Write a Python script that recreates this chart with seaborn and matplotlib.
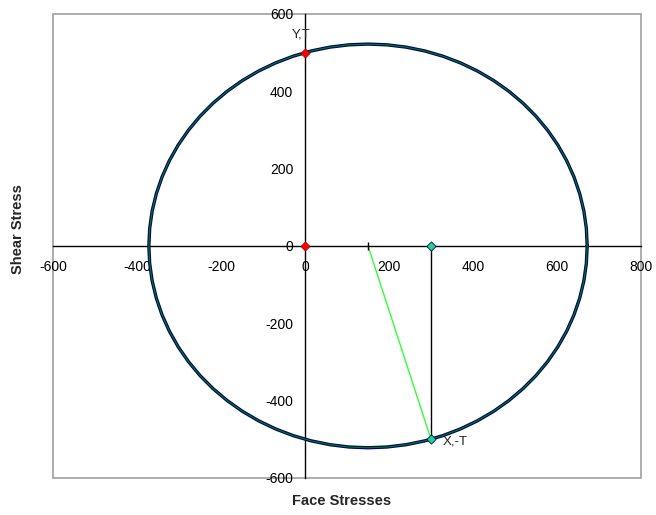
import numpy as np
import pandas as pd
import matplotlib
matplotlib.use("Agg")
import matplotlib.pyplot as plt
import seaborn as sns
from matplotlib.patches import Rectangle

# stresses
sigma_x = 300
sigma_y = 0
tau = 500
n_circle = 73

# Mohr circle from the stress state
centre = (sigma_x + sigma_y) / 2
rayon = np.hypot((sigma_x - sigma_y) / 2, tau)
theta = np.linspace(0, 2 * np.pi, n_circle)
cercle = pd.DataFrame({"s": centre + rayon * np.cos(theta),
                       "t": rayon * np.sin(theta)})

pts_rouges = pd.DataFrame({"s": [sigma_y, sigma_y], "t": [0, tau]})
pts_verts = pd.DataFrame({"s": [sigma_x, sigma_x], "t": [0, -tau]})

x_ticks = [-600, -400, -200, 0, 200, 400, 600, 800]
y_ticks = [-600, -400, -200, 0, 200, 400, 600]

sns.set_style("white")
plt.rcParams["font.family"] = ["Liberation Sans", "DejaVu Sans"]

fig = plt.figure(figsize=(6.56, 5.15), dpi=100)
ax = fig.add_axes([0.081, 0.072, 0.896, 0.901])

# circle: navy with green over it
sns.lineplot(data=cercle, x="s", y="t", sort=False, estimator=None,
             color="#000070", linewidth=2.4, ax=ax, zorder=3)
sns.lineplot(data=cercle, x="s", y="t", sort=False, estimator=None,
             color="#008000", linewidth=0.8, ax=ax, zorder=4)

# vertical line x and diameter line
ax.plot([sigma_x, sigma_x], [0, -tau], color="black", linewidth=1, zorder=2)
ax.plot([centre, sigma_x], [0, -tau], color="#33ff33", linewidth=1, zorder=2)
ax.plot([centre], [0], marker="|", color="black", markersize=6, zorder=2)

sns.scatterplot(data=pts_rouges, x="s", y="t", marker="D", s=22,
                color="red", edgecolor="#aa0000", linewidth=0.5, ax=ax, zorder=5)
sns.scatterplot(data=pts_verts, x="s", y="t", marker="D", s=22,
                color="#22dd55", edgecolor="#0000cc", linewidth=0.6, ax=ax, zorder=5)

ax.text(sigma_y + 12, tau + 30, "Y,T", ha="right", va="bottom", fontsize=9.5, color="#222222")
ax.text(sigma_x + 28, -tau - 5, "X,-T", ha="left", va="center", fontsize=9.5, color="#222222")

ax.set_xlim(-600, 800)
ax.set_ylim(-600, 600)
ax.set_xticks(x_ticks)
ax.set_yticks(y_ticks)
ax.set_xticklabels([str(v) for v in x_ticks], fontsize=9.5)
ax.set_yticklabels([str(v) for v in y_ticks], fontsize=9.5)

# axes crossing at the origin, Excel style
for s in ["top", "right"]:
    ax.spines[s].set_visible(False)
ax.spines["left"].set_position(("data", 0))
ax.spines["bottom"].set_position(("data", 0))
ax.spines["left"].set_color("black")
ax.spines["bottom"].set_color("black")
ax.spines["left"].set_linewidth(1)
ax.spines["bottom"].set_linewidth(1)
ax.tick_params(axis="both", direction="inout", length=7, width=1, color="black",
               labelcolor="black")
ax.tick_params(axis="x", pad=7)
ax.tick_params(axis="y", pad=5)
ax.add_patch(Rectangle((0, 0), 1, 1, transform=ax.transAxes, fill=False,
                       edgecolor="#a0a0a0", linewidth=1.2, zorder=0, clip_on=False))

ax.set_xlabel("")
ax.set_ylabel("")
fig.text(0.52, 0.028, "Face Stresses", ha="center", va="center",
         fontsize=10.5, fontweight="bold")
fig.text(0.027, 0.555, "Shear Stress", ha="center", va="center",
         fontsize=10.5, fontweight="bold", rotation=90)

plt.savefig("out.png", dpi=100)
